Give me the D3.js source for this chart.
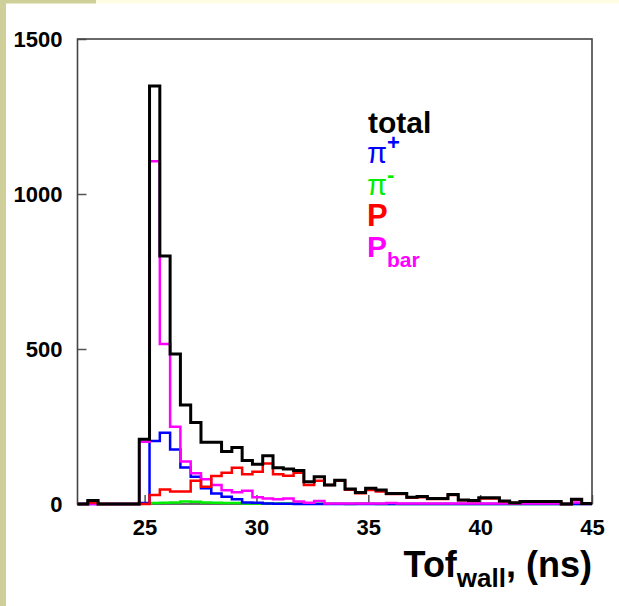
<!DOCTYPE html>
<html>
<head>
<meta charset="utf-8">
<script src="https://cdn.jsdelivr.net/npm/d3@7"></script>
<style>
  body { margin: 0; background: #ffffff; }
  text { font-family: "Liberation Sans", Arial, sans-serif; }
</style>
</head>
<body>
<div id="wrapper"></div>
<script>
// histogram binning: 50 bins from 22 to 45 ns
const binStart = 22;
const binWidth = 0.46;

const totalCounts = [0, 11, 0, 0, 0, 0, 209, 1348, 800, 484,
  319, 263, 199, 199, 169, 182, 140, 128, 156, 117,
  113, 108, 72, 88, 61, 77, 48, 37, 51, 45,
  34, 34, 22, 24, 18, 18, 31, 13, 11, 20,
  20, 10, 4, 8, 8, 8, 8, 0, 15, 2];

const piPlusCounts = [0, 0, 0, 0, 0, 0, 3, 203, 230, 176,
  118, 88, 51, 34, 23, 15, 5, 4, 2, 1,
  1, 0, 0, 0, 0, 0, 0, 0, 0, 0,
  0, 0, 0, 0, 0, 0, 0, 0, 0, 0,
  0, 0, 0, 0, 0, 0, 0, 0, 0, 0];

const piMinusCounts = [0, 3, 0, 0, 0, 0, 2, 3, 4, 5,
  8, 7, 5, 4, 3, 3, 2, 2, 2, 2,
  2, 2, 2, 1, 1, 1, 0, 2, 1, 0,
  0, 0, 0, 0, 0, 0, 0, 0, 0, 0,
  0, 0, 0, 0, 0, 0, 0, 0, 0, 0];

const protonCounts = [0, 5, 0, 0, 0, 0, 0, 29, 47, 40,
  40, 75, 56, 90, 101, 117, 96, 104, 131, 96,
  91, 101, 61, 75, 61, 75, 46, 35, 45, 40,
  32, 32, 20, 22, 16, 16, 29, 12, 10, 18,
  18, 9, 3, 7, 7, 7, 7, 0, 14, 1];

const antiProtonCounts = [0, 0, 0, 0, 0, 0, 201, 1106, 516, 249,
  137, 99, 80, 61, 44, 38, 43, 22, 18, 15,
  18, 8, 4, 10, 2, 2, 2, 2, 2, 2,
  3, 2, 2, 2, 2, 2, 2, 2, 2, 2,
  2, 2, 2, 2, 2, 2, 2, 0, 5, 0];

const xTicks = [25, 30, 35, 40, 45];
const yTicks = [0, 500, 1000, 1500];

const dimensions = {
  width: 619,
  height: 606,
  left: 77.5,
  right: 592,
  top: 39,
  bottom: 504,
};

const svg = d3
  .select("#wrapper")
  .append("svg")
  .attr("width", dimensions.width)
  .attr("height", dimensions.height);

// slide background bands
svg.append("rect").attr("x", 0).attr("y", 0).attr("width", 619).attr("height", 3.5).attr("fill", "#fffde4");
svg.append("rect").attr("x", 0).attr("y", 0).attr("width", 96).attr("height", 3.5).attr("fill", "#cfcf99");
svg.append("rect").attr("x", 0).attr("y", 0).attr("width", 6).attr("height", 606).attr("fill", "#cfcf99");

const xScale = d3.scaleLinear().domain([22, 45]).range([dimensions.left, dimensions.right]);
const yScale = d3.scaleLinear().domain([0, 1500]).range([dimensions.bottom, dimensions.top]);

// axes with inward ticks
const xAxis = svg
  .append("g")
  .attr("transform", `translate(0, ${dimensions.bottom})`)
  .call(d3.axisBottom(xScale).tickValues(xTicks).tickFormat(d3.format("d"))
    .tickSizeInner(-9).tickSizeOuter(0).tickPadding(15));

const yAxis = svg
  .append("g")
  .attr("transform", `translate(${dimensions.left}, 0)`)
  .call(d3.axisLeft(yScale).tickValues(yTicks).tickFormat(d3.format("d"))
    .tickSizeInner(-9).tickSizeOuter(0).tickPadding(15));

[xAxis, yAxis].forEach((ax) => {
  ax.select(".domain").remove();
  ax.selectAll(".tick line").attr("stroke", "#555").attr("stroke-width", 1.5);
  ax.selectAll(".tick text")
    .attr("fill", "#000")
    .style("font-size", "22px")
    .style("font-weight", "bold");
});

// frame
svg
  .append("rect")
  .attr("x", dimensions.left)
  .attr("y", dimensions.top)
  .attr("width", dimensions.right - dimensions.left)
  .attr("height", dimensions.bottom - dimensions.top)
  .attr("fill", "none")
  .attr("stroke", "#444")
  .attr("stroke-width", 1.6);

// step outline of a histogram
function stepPoints(counts) {
  const pts = [];
  counts.forEach((c, i) => {
    pts.push([binStart + i * binWidth, c]);
    pts.push([binStart + (i + 1) * binWidth, c]);
  });
  return pts;
}

const lineGenerator = d3
  .line()
  .x((d) => xScale(d[0]))
  .y((d) => yScale(d[1]));

const series = [
  { counts: piMinusCounts, color: "#00ee00", width: 2.5 },
  { counts: piPlusCounts, color: "#0000ff", width: 2.5 },
  { counts: antiProtonCounts, color: "#ff00ff", width: 2.5 },
  { counts: protonCounts, color: "#ff0000", width: 2.5 },
  { counts: totalCounts, color: "#000000", width: 3 },
];

series.forEach((s) => {
  svg
    .append("path")
    .attr("d", lineGenerator(stepPoints(s.counts)))
    .attr("fill", "none")
    .attr("stroke", s.color)
    .attr("stroke-width", s.width)
    .attr("stroke-linejoin", "miter");
});

// legend
const legend = svg.append("g").style("font-weight", "bold");
legend.append("text").attr("x", 368).attr("y", 133).style("font-size", "30px").attr("fill", "#000").text("total");

const piPlus = legend.append("text").attr("x", 367).attr("y", 163).attr("fill", "#0000ff");
piPlus.append("tspan").style("font-size", "29px").style("font-weight", "normal").text("π");
piPlus.append("tspan").attr("dy", -13).style("font-size", "22px").text("+");

const piMinus = legend.append("text").attr("x", 367).attr("y", 195).attr("fill", "#00ee00");
piMinus.append("tspan").style("font-size", "29px").style("font-weight", "normal").text("π");
piMinus.append("tspan").attr("dy", -13).style("font-size", "22px").text("-");

legend.append("text").attr("x", 367).attr("y", 226).style("font-size", "31px").attr("fill", "#ff0000").text("P");

const pBar = legend.append("text").attr("x", 367).attr("y", 257).attr("fill", "#ff00ff");
pBar.append("tspan").style("font-size", "30px").text("P");
pBar.append("tspan").attr("dy", 10).style("font-size", "21px").text("bar");

// x axis title
const title = svg
  .append("text")
  .attr("x", dimensions.right)
  .attr("y", 577)
  .attr("text-anchor", "end")
  .style("font-weight", "bold")
  .attr("fill", "#000");
title.append("tspan").style("font-size", "36px").text("Tof");
title.append("tspan").attr("dy", 10).style("font-size", "26px").text("wall");
title.append("tspan").attr("dy", -10).style("font-size", "36px").text(", (ns)");
</script>
</body>
</html>
